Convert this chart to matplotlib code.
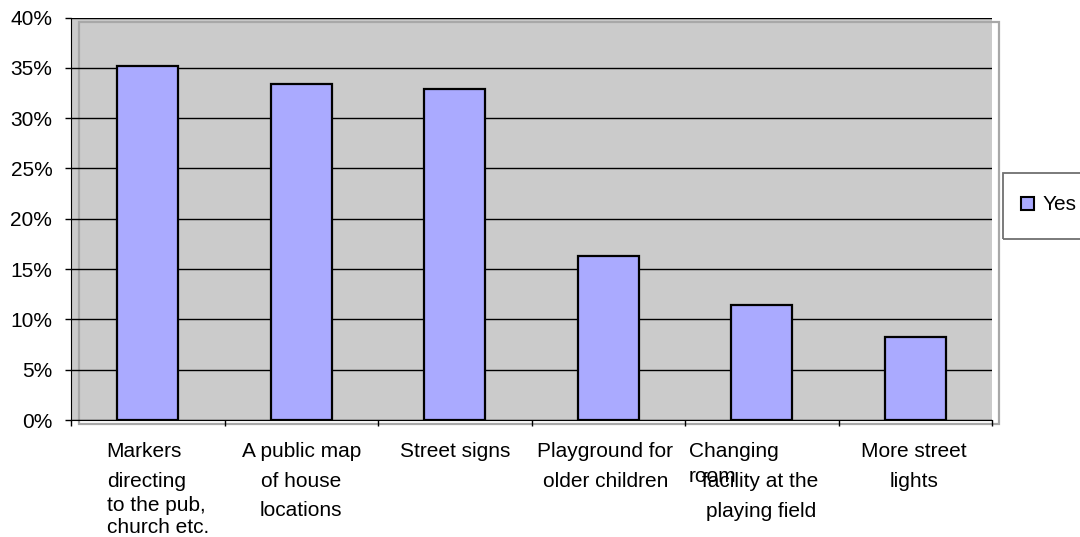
import matplotlib
matplotlib.use("Agg")
import matplotlib.pyplot as plt
from matplotlib.patches import Rectangle, Patch
from matplotlib.ticker import FixedLocator, FuncFormatter

# ---------------- data ----------------
categories = [
    "Markers\ndirecting\nto the pub,\nchurch etc.",
    "A public map\nof house\nlocations",
    "Street signs",
    "Playground for\nolder children",
    "Changing\nroom\nfacility at the\nplaying field",
    "More street\nlights",
]
values = [35.2, 33.4, 32.9, 16.3, 11.4, 8.2]
series_name = "Yes"
y_ticks = [0, 5, 10, 15, 20, 25, 30, 35, 40]

# ---------------- style / layout ----------------
W, H = 1080, 537
FS = 15
BAR_COLOR = "#AAAAFF"
FACE = "#CBCBCB"
plt.rcParams["font.family"] = ["Liberation Sans", "DejaVu Sans"]

fig = plt.figure(figsize=(W / 100, H / 100), dpi=100)
ax_left, ax_right, ax_top, ax_bottom = 71, 992, 17.5, 420
ax = fig.add_axes([ax_left / W, 1 - ax_bottom / H,
                   (ax_right - ax_left) / W, (ax_bottom - ax_top) / H])
ax.set_facecolor(FACE)

x = list(range(len(categories)))
ax.bar(x, values, width=0.4, color=BAR_COLOR, edgecolor="black",
       linewidth=1.6, zorder=2)

ax.set_xlim(-0.5, len(categories) - 0.5)
ax.set_ylim(0, 40)

# y axis
ax.yaxis.set_major_locator(FixedLocator(y_ticks))
ax.yaxis.set_major_formatter(FuncFormatter(lambda v, p: f"{v:.0f}%"))
ax.tick_params(axis="y", direction="out", length=4.5, width=1,
               labelsize=FS, pad=9, colors="black")
ax.set_axisbelow(True)
ax.grid(axis="y", color="black", linewidth=1.0)

# x axis: ticks at category boundaries, labels drawn as text
ax.set_xticks([i - 0.5 for i in range(len(categories) + 1)])
ax.set_xticklabels([])
ax.tick_params(axis="x", direction="out", length=4.5, width=1)

for s in ["top", "right"]:
    ax.spines[s].set_visible(False)
ax.spines["left"].set_color("black")
ax.spines["bottom"].set_color("black")

# light gray chart frame (offset)
frame = Rectangle((79 / W, 1 - 424 / H), (999 - 79) / W, (424 - 21.7) / H,
                  transform=fig.transFigure, fill=False, edgecolor="#A8A8A8",
                  linewidth=1.6, clip_on=False, zorder=0.4)
ax.add_patch(frame)

# category label layout: per line (align, x offset px, baseline px)
label_layout = [
    [("left", -41, 457), ("left", -41, 487), ("left", -41, 511), ("left", -41, 533)],
    [("center", 0, 457), ("center", 0, 487), ("center", 0, 516)],
    [("center", 0, 457)],
    [("center", -3, 457), ("center", -3, 487)],
    [("left", -73, 457), ("left", -73, 482), ("center", -2, 487), ("center", -1, 517)],
    [("center", -1, 457), ("center", -1, 487)],
]
trans = ax.get_xaxis_transform()
for i, (lab, lay) in enumerate(zip(categories, label_layout)):
    for line, (ha, dx, base) in zip(lab.split("\n"), lay):
        ax.annotate(line, xy=(i, 0), xycoords=trans,
                    xytext=(dx * 0.72, -(base - ax_bottom) * 0.72),
                    textcoords="offset points", ha=ha, va="baseline",
                    fontsize=FS, color="black", annotation_clip=False)

# legend
box = Rectangle((1003 / W, 1 - 239 / H), (1095 - 1003) / W, (239 - 173) / H,
                transform=fig.transFigure, fill=False, edgecolor="#707070",
                linewidth=1.3, clip_on=False)
fig.add_artist(box)
handle = Patch(facecolor=BAR_COLOR, edgecolor="black", linewidth=1.5,
               label=series_name)
fig.legend(handles=[handle], loc="center left",
           bbox_to_anchor=(1021 / W, 1 - 205 / H), frameon=False,
           borderpad=0, borderaxespad=0, handlelength=0.6, handleheight=0.6,
           handletextpad=0.45, fontsize=FS)

fig.savefig("out.png", dpi=100)
